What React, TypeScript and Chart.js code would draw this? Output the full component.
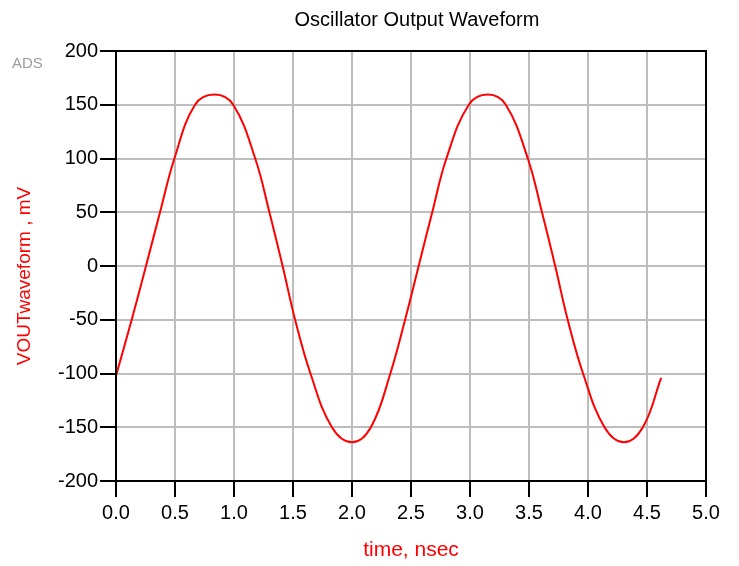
import React, { useEffect, useRef } from "react";
import { Chart, registerables } from "chart.js";

Chart.register(...registerables);

const TITLE = "Oscillator Output Waveform";
const X_TITLE = "time, nsec";
const Y_TITLE = "VOUTwaveform , mV";
const BADGE = "ADS";

const timeNs = [
  0.0, 0.133, 0.254, 0.373, 0.495, 0.67, 0.835, 0.993, 1.18, 1.3,
  1.412, 1.518, 1.648, 1.83, 2.0, 2.16, 2.325, 2.45, 2.565, 2.68,
  2.8, 2.99, 3.15, 3.303, 3.49, 3.61, 3.722, 3.828, 3.958, 4.14,
  4.305, 4.465, 4.62,
];
const voutMv = [
  -102, -50, 0, 50, 100, 150, 159.5, 150, 100, 50,
  0, -50, -100, -150, -164, -150, -100, -50, 0, 50,
  100, 150, 159.5, 150, 100, 50, 0, -50, -100, -150,
  -164, -150, -104,
];

const X_TICK_LABELS = ["0.0", "0.5", "1.0", "1.5", "2.0", "2.5", "3.0", "3.5", "4.0", "4.5", "5.0"];
const Y_TICK_LABELS = ["-200", "-150", "-100", "-50", "0", "50", "100", "150", "200"];

const FONT = '"Liberation Sans", Arial, Helvetica, sans-serif';

const textPlugin = {
  id: "adsTexts",
  afterDraw(chart: any) {
    const ctx = chart.ctx as CanvasRenderingContext2D;
    const a = chart.chartArea;
    ctx.save();
    ctx.strokeStyle = "#000";
    ctx.lineWidth = 2;
    ctx.strokeRect(a.left, a.top, a.right - a.left, a.bottom - a.top);

    ctx.textAlign = "center";
    ctx.textBaseline = "middle";
    ctx.fillStyle = "#000";
    ctx.font = `20px ${FONT}`;
    ctx.fillText(TITLE, (a.left + a.right) / 2 + 6, 20);

    ctx.fillStyle = "#ff0000";
    ctx.font = `21px ${FONT}`;
    ctx.fillText(X_TITLE, (a.left + a.right) / 2, 550);

    ctx.font = `19px ${FONT}`;
    ctx.save();
    ctx.translate(25, (a.top + a.bottom) / 2 + 10);
    ctx.rotate(-Math.PI / 2);
    ctx.fillText(Y_TITLE, 0, 0);
    ctx.restore();

    ctx.font = `15px ${FONT}`;
    ctx.fillStyle = "#9c9c9c";
    ctx.textAlign = "left";
    ctx.fillText(BADGE, 12, 64);
    ctx.restore();
  },
};

export default function App() {
  const ref = useRef<HTMLCanvasElement | null>(null);
  useEffect(() => {
    if (!ref.current) return;
    const points = timeNs.map((t, i) => ({ x: t, y: voutMv[i] }));
    const chart = new Chart(ref.current, {
      type: "line",
      data: {
        datasets: [
          {
            data: points,
            borderColor: "#ff0000",
            borderWidth: 2,
            pointRadius: 0,
            fill: false,
            tension: 0.4,
          },
        ],
      },
      options: {
        animation: false,
        responsive: false,
        layout: { padding: { top: 51, right: 33, left: 0, bottom: 0 } },
        plugins: { legend: { display: false }, title: { display: false }, tooltip: { enabled: false } },
        scales: {
          x: {
            type: "linear",
            min: 0,
            max: 5,
            afterFit: (s: any) => {
              s.height = 85;
            },
            afterBuildTicks: (s: any) => {
              s.ticks = X_TICK_LABELS.map((l) => ({ value: parseFloat(l) }));
            },
            ticks: {
              callback: (_v: any, i: number) => X_TICK_LABELS[i],
              color: "#000",
              font: { family: FONT, size: 20 },
              padding: 4,
              maxRotation: 0,
              autoSkip: false,
            },
            grid: { color: "#bdbdbd", lineWidth: 2, tickColor: "#000", tickLength: 16, tickWidth: 2 },
            border: { color: "#000", width: 2 },
          },
          y: {
            type: "linear",
            min: -200,
            max: 200,
            afterFit: (s: any) => {
              s.width = 116;
            },
            afterBuildTicks: (s: any) => {
              s.ticks = Y_TICK_LABELS.map((l) => ({ value: parseFloat(l) }));
            },
            ticks: {
              callback: (_v: any, i: number) => Y_TICK_LABELS[i],
              color: "#000",
              font: { family: FONT, size: 20 },
              padding: 2,
              autoSkip: false,
            },
            grid: { color: "#bdbdbd", lineWidth: 2, tickColor: "#000", tickLength: 16, tickWidth: 2 },
            border: { color: "#000", width: 2 },
          },
        },
      },
      plugins: [textPlugin],
    });
    return () => chart.destroy();
  }, []);
  return (
    <div style={{ position: "fixed", left: 0, top: 0, width: 739, height: 566, background: "#fff" }}>
      <canvas ref={ref} width={739} height={566} style={{ width: 739, height: 566 }} />
    </div>
  );
}
